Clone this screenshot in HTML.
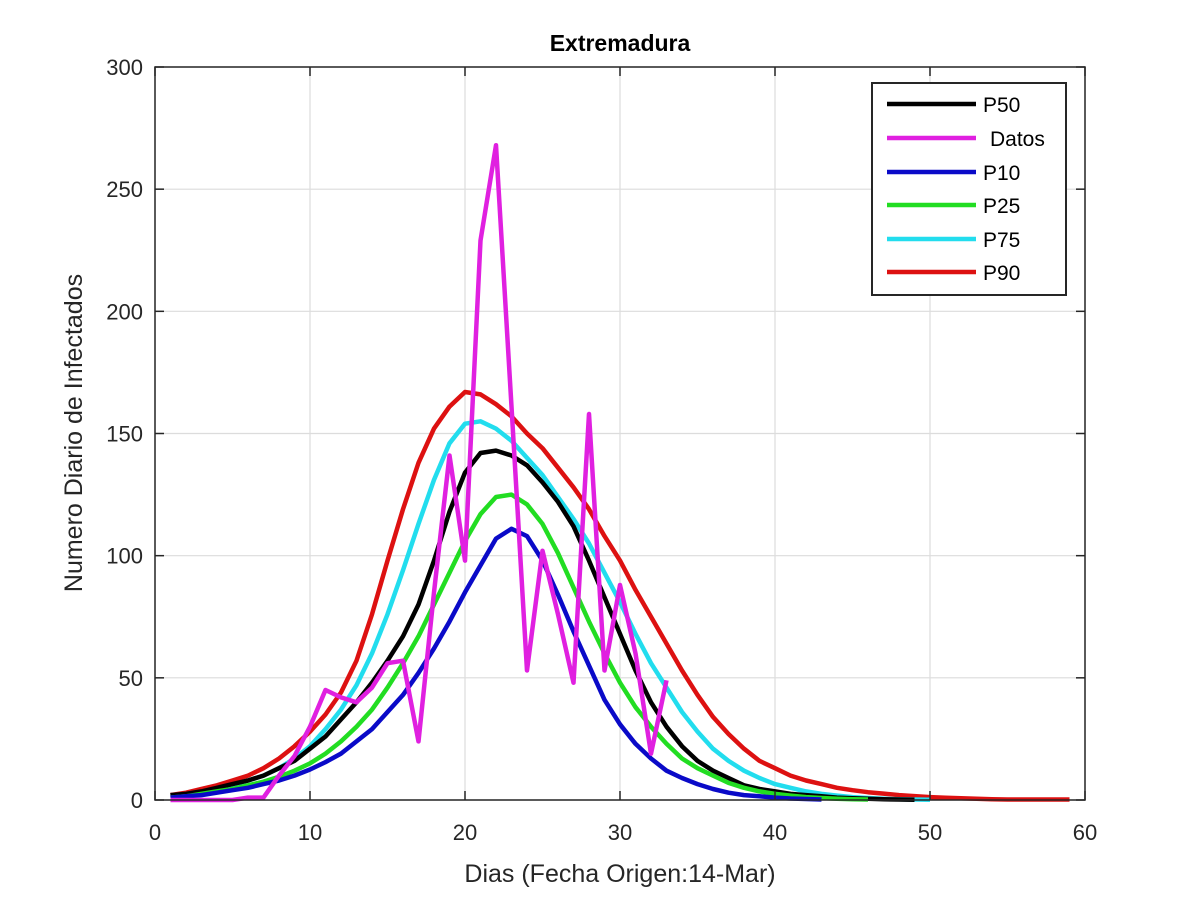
<!DOCTYPE html>
<html><head><meta charset="utf-8"><style>
body{margin:0;background:#fff;}
svg text{font-family:"Liberation Sans",sans-serif;}
</style></head><body>
<svg id="chart" width="1200" height="900" viewBox="0 0 1200 900">
<text x="620" y="51" text-anchor="middle" font-size="23" font-weight="bold" fill="#000">Extremadura</text>
<g id="grid"></g>
<g id="series"></g>
<rect x="155" y="67" width="930" height="733" fill="none" stroke="#262626" stroke-width="1.5"/>
<g id="ticks"></g>
<text x="620" y="882" text-anchor="middle" font-size="25" fill="#262626">Dias (Fecha Origen:14-Mar)</text>
<text transform="translate(82,433) rotate(-90)" text-anchor="middle" font-size="25" fill="#262626">Numero Diario de Infectados</text>
<g id="legend">
<rect x="872" y="83" width="194" height="212" fill="#fff" stroke="#262626" stroke-width="2"/>
</g>
</svg>
<script>
const xTicks=[0,10,20,30,40,50,60];
const yTicks=[0,50,100,150,200,250,300];
const seriesNames=["P50","Datos","P10","P25","P75","P90"];
const seriesColors=["#000000","#e020e0","#0a0ac8","#22dd22","#22ddee","#dd1111"];
const p50=[2,2.5,3.5,5,6.5,8,10,13,16,21,26,33,40,48,57,67,80,98,118,134,142,143,141,137,130,122,112,98,83,68,53,40,30,22,16,12,9,6,4.5,3.5,2.5,2,1.5,1,0.7,0.5,0.3,0.2,0.1];
const datos=[0,0,0,0,0,1,1,10,18,30,45,42,40,46,56,57,24,85,141,98,229,268,161,53,102,76,48,158,53,88,60,19,49];
const p10=[1,1.5,2,3,4,5,6.5,8,10,12.5,15.5,19,24,29,36,43,52,62,73,85,96,107,111,108,98,84,69,55,41,31,23,17,12,9,6.5,4.5,3,2,1.5,1,0.6,0.4,0.2];
const p25=[1,1.5,2.5,3.5,4.5,6,7.5,9.5,12,15,19,24,30,37,46,56,67,80,93,106,117,124,125,121,113,101,87,73,60,48,38,30,23,17,13,10,7,5,3.5,2.5,1.8,1.2,0.8,0.5,0.3,0.2];
const p75=[1.5,2,3,4.5,6,8,10,13,17,22,29,37,47,60,76,94,113,131,146,154,155,152,147,140,133,124,115,105,93,81,68,56,46,36,28,21,16,12,9,6.5,5,3.5,2.5,1.8,1.2,0.8,0.5,0.3,0.2,0.1];
const p90=[2,3,4.5,6,8,10,13,17,22,28,35,44,57,76,98,119,138,152,161,167,166,162,157,150,144,136,128,119,108,98,86,75,64,53,43,34,27,21,16,13,10,8,6.5,5,4,3.2,2.6,2,1.6,1.2,0.9,0.7,0.5,0.3,0.2,0.2,0.2,0.2,0.2];
const X=v=>155+v*930/60, Y=v=>800-v*733/300;
const NS="http://www.w3.org/2000/svg";
function mk(tag,attrs,parent){const e=document.createElementNS(NS,tag);for(const k in attrs)e.setAttribute(k,attrs[k]);parent.appendChild(e);return e;}
const grid=document.getElementById('grid'),ticks=document.getElementById('ticks'),ser=document.getElementById('series'),leg=document.getElementById('legend');
xTicks.forEach(t=>{
  const g=mk('line',{x1:X(t),x2:X(t),y1:67,y2:800,stroke:'#dcdcdc','stroke-width':1.2},grid);
  
  
  mk('line',{x1:X(t),x2:X(t),y1:800,y2:791,stroke:'#262626','stroke-width':1.5},ticks);
  mk('line',{x1:X(t),x2:X(t),y1:67,y2:76,stroke:'#262626','stroke-width':1.5},ticks);
  const l=mk('text',{x:X(t),y:840,'text-anchor':'middle','font-size':22,fill:'#262626'},ticks);
  l.textContent=t;
  
  
});
yTicks.forEach(t=>{
  const g=mk('line',{x1:155,x2:1085,y1:Y(t),y2:Y(t),stroke:'#dcdcdc','stroke-width':1.2},grid);
  
  
  mk('line',{x1:155,x2:164,y1:Y(t),y2:Y(t),stroke:'#262626','stroke-width':1.5},ticks);
  mk('line',{x1:1085,x2:1076,y1:Y(t),y2:Y(t),stroke:'#262626','stroke-width':1.5},ticks);
  const l=mk('text',{x:143,y:Y(t)+8,'text-anchor':'end','font-size':22,fill:'#262626'},ticks);
  l.textContent=t;
  
  
});
const data=[p50,datos,p10,p25,p75,p90];
const order=[5,4,0,3,2,1];
order.forEach(i=>{
  const pts=data[i].map((v,k)=>X(k+1).toFixed(1)+','+Y(v).toFixed(1)).join(' ');
  const p=mk('polyline',{points:pts,fill:'none',stroke:seriesColors[i],'stroke-width':4.5,'stroke-linejoin':'round'},ser);
  
  
});
const ly=[104,138,172,205,239,272];
seriesNames.forEach((n,i)=>{
  const l=mk('line',{x1:887,x2:976,y1:ly[i],y2:ly[i],stroke:seriesColors[i],'stroke-width':4.5},leg);
  
  
  const t=mk('text',{x:n==='Datos'?990:983,y:ly[i]+8,'font-size':21,fill:'#000'},leg);
  t.textContent=n;
  
  
});
</script>
</body></html>
